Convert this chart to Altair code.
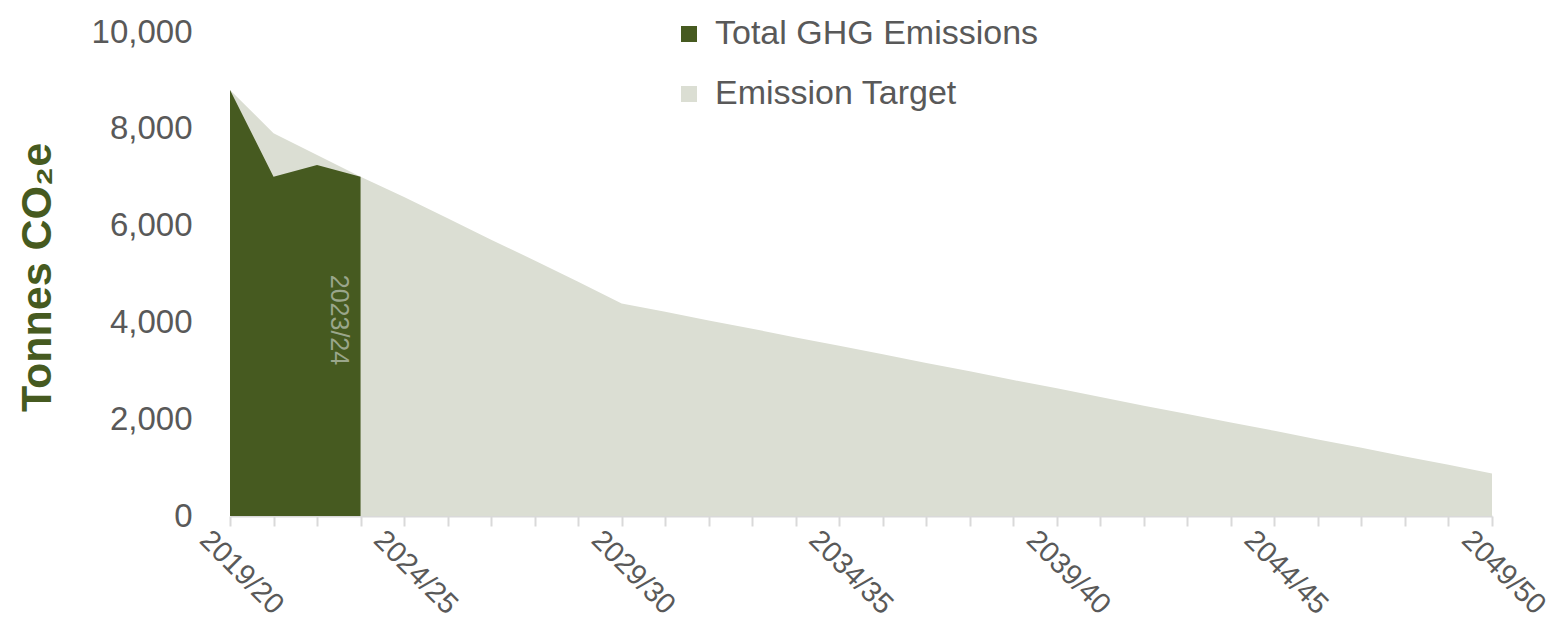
import json
import altair as alt
import pandas as pd

# Financial years on the category axis (2020/21 is not shown in the source chart)
years = [
    "2019/20", "2021/22", "2022/23", "2023/24", "2024/25", "2025/26",
    "2026/27", "2027/28", "2028/29", "2029/30", "2030/31", "2031/32",
    "2032/33", "2033/34", "2034/35", "2035/36", "2036/37", "2037/38",
    "2038/39", "2039/40", "2040/41", "2041/42", "2042/43", "2043/44",
    "2044/45", "2045/46", "2046/47", "2047/48", "2048/49", "2049/50",
]

target_values = [
    8800, 7910, 7460, 7010, 6590, 6150, 5710, 5280, 4840, 4390,
    4220, 4040, 3870, 3690, 3520, 3340, 3160, 2990, 2810, 2640,
    2460, 2280, 2110, 1930, 1760, 1580, 1410, 1230, 1060, 880,
]

emission_years = ["2019/20", "2021/22", "2022/23", "2023/24"]
emission_values = [8800, 7010, 7250, 7010]

shown_labels = ["2019/20", "2024/25", "2029/30", "2034/35", "2039/40", "2044/45", "2049/50"]
y_ticks = [0, 2000, 4000, 6000, 8000, 10000]

series_names = ["Total GHG Emissions", "Emission Target"]
series_colors = ["#465a20", "#dbded3"]

annotation_year = ["2023/24"]
annotation_text = ["2023/24"]

df_target = pd.DataFrame({"year": years, "value": target_values, "series": series_names[1]})
df_em = pd.DataFrame({"year": emission_years, "value": emission_values, "series": series_names[0]})
df_ann = pd.DataFrame({"year": annotation_year, "label": annotation_text})

FONT = "Liberation Sans"
GREY = "#595959"

label_expr = "indexof(" + json.dumps(shown_labels) + ", datum.value) >= 0 ? datum.value : ''"

x_enc = alt.X(
    "year:O",
    sort=years,
    scale=alt.Scale(type="point", domain=years, padding=0),
    axis=alt.Axis(
        title=None,
        values=years,
        labelExpr=label_expr,
        labelAngle=45,
        labelAlign="left",
        labelBaseline="top",
        labelFontSize=29,
        labelFont=FONT,
        labelColor=GREY,
        labelPadding=-1,
        labelOffset=-16,
        labelOverlap=False,
        labelBound=False,
        labelLimit=0,
        tickSize=10,
        tickColor="#d9d9d9",
        tickWidth=2,
        domainColor="#d9d9d9",
        domainWidth=2,
        grid=False,
    ),
)

y_enc = alt.Y(
    "value:Q",
    scale=alt.Scale(domain=[0, 10000], nice=False),
    axis=alt.Axis(
        values=y_ticks,
        format=",d",
        title="Tonnes CO₂e",
        titleFontSize=43,
        titleFont=FONT,
        titleFontWeight="bold",
        titleColor="#465a20",
        titleAngle=270,
        titleAlign="center",
        titleBaseline="bottom",
        titleX=-171,
        titleY=245,
        labelFontSize=33,
        labelFont=FONT,
        labelColor=GREY,
        labelPadding=38,
        ticks=False,
        domain=False,
        grid=False,
    ),
)

color_enc = alt.Color(
    "series:N",
    scale=alt.Scale(domain=series_names, range=series_colors),
    title=None,
    legend=alt.Legend(
        orient="none",
        legendX=442,
        legendY=-15,
        symbolType="square",
        symbolSize=256,
        symbolStrokeWidth=0,
        symbolOpacity=1,
        labelFontSize=34,
        labelFont=FONT,
        labelColor=GREY,
        labelOffset=9,
        labelLimit=0,
        rowPadding=26,
        padding=0,
    ),
)

target_area = alt.Chart(df_target).mark_area(opacity=1).encode(x=x_enc, y=y_enc, color=color_enc)
em_area = alt.Chart(df_em).mark_area(opacity=1).encode(x=x_enc, y=y_enc, color=color_enc)

ann = alt.Chart(df_ann).mark_text(
    angle=90, fontSize=25, font=FONT, color="#9aa68b", align="center", baseline="middle", dy=22
).encode(x=x_enc, y=alt.value(288), text="label:N")

chart = alt.layer(target_area, em_area, ann).properties(
    width=1262,
    height=484,
    padding={"left": 222, "top": 24, "right": 61, "bottom": 105},
    autosize=alt.AutoSizeParams(type="none"),
).configure(font=FONT).configure_view(stroke="transparent", strokeWidth=0)

chart.save("out.html", embed_options={"renderer": "svg", "actions": False})
